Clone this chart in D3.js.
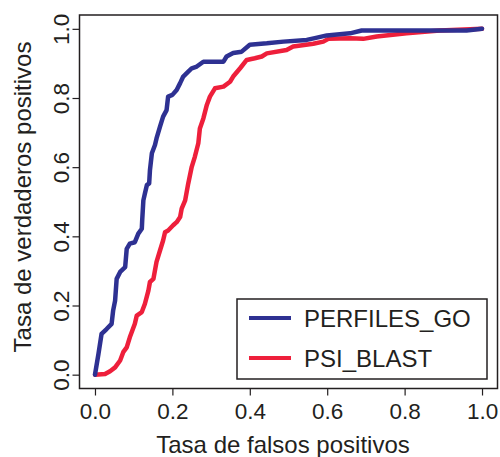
<!DOCTYPE html>
<html>
<head>
<meta charset="utf-8">
<script src="https://cdn.jsdelivr.net/npm/d3@7"></script>
<style>
  body { margin: 0; background: #fff; }
  svg { display: block; font-family: "Liberation Sans", Arial, sans-serif; }
</style>
</head>
<body>
<div id="chart"></div>
<script>
// ROC curves
var perfilesFpr = [0, 0.009, 0.017, 0.030, 0.043, 0.047, 0.052, 0.056, 0.065, 0.078, 0.082, 0.090, 0.103, 0.112, 0.121, 0.122, 0.125,
  0.129, 0.134, 0.140, 0.142, 0.147, 0.155, 0.159, 0.168, 0.176, 0.185, 0.189, 0.200, 0.211, 0.220, 0.228, 0.241, 0.250, 0.263, 0.280, 0.310,
  0.332, 0.340, 0.357, 0.379, 0.400, 0.444, 0.487, 0.547, 0.568, 0.599, 0.659, 0.689, 0.960, 1.0];
var perfilesTpr = [0, 0.060, 0.118, 0.132, 0.147, 0.186, 0.214, 0.277, 0.297, 0.311, 0.364, 0.379, 0.383, 0.408, 0.422, 0.446, 0.504,
  0.524, 0.548, 0.553, 0.591, 0.640, 0.664, 0.683, 0.717, 0.746, 0.765, 0.804, 0.809, 0.823, 0.843, 0.862, 0.876, 0.886, 0.891, 0.905, 0.905,
  0.905, 0.920, 0.930, 0.934, 0.954, 0.958, 0.963, 0.968, 0.973, 0.981, 0.987, 0.995, 0.995, 1.0];

var psiFpr = [0, 0.026, 0.039, 0.052, 0.065, 0.073, 0.082, 0.090, 0.103, 0.108, 0.121, 0.129, 0.138, 0.142, 0.151, 0.159, 0.168, 0.176,
  0.181, 0.189, 0.202, 0.211, 0.220, 0.224, 0.233, 0.241, 0.250, 0.258, 0.267, 0.271, 0.280, 0.289, 0.297, 0.310, 0.332, 0.349, 0.357,
  0.375, 0.392, 0.413, 0.431, 0.444, 0.495, 0.512, 0.564, 0.590, 0.603, 0.659, 0.693, 0.728, 0.805, 0.891, 1.0];
var psiTpr = [0, 0.002, 0.010, 0.021, 0.041, 0.065, 0.079, 0.108, 0.147, 0.171, 0.181, 0.205, 0.243, 0.268, 0.277, 0.326, 0.359, 0.388,
  0.412, 0.417, 0.432, 0.441, 0.456, 0.480, 0.504, 0.553, 0.601, 0.630, 0.669, 0.712, 0.741, 0.780, 0.804, 0.828, 0.833, 0.847, 0.862,
  0.886, 0.910, 0.915, 0.920, 0.929, 0.939, 0.949, 0.957, 0.963, 0.971, 0.973, 0.971, 0.978, 0.987, 0.995, 1.0];

var seriesNames = ["PERFILES_GO", "PSI_BLAST"];
var seriesColors = ["#2e3192", "#ee1f3b"];
var tickValues = [0, 0.2, 0.4, 0.6, 0.8, 1.0];

var W = 500, H = 457;
var box = {left: 79.5, right: 497.5, top: 15, bottom: 388.5};
var ink = "#231f20";

var svg = d3.select("#chart").append("svg")
    .attr("width", W)
    .attr("height", H);

// R style: 4% padding each side of the 0..1 range
var x = d3.scaleLinear().domain([-0.04, 1.04]).range([box.left, box.right]);
var y = d3.scaleLinear().domain([-0.04, 1.04]).range([box.bottom, box.top]);

var series = [
  {name: seriesNames[0], color: seriesColors[0], pts: d3.zip(perfilesFpr, perfilesTpr)},
  {name: seriesNames[1], color: seriesColors[1], pts: d3.zip(psiFpr, psiTpr)}
];

var line = d3.line()
  .x(function(d) { return x(d[0]); })
  .y(function(d) { return y(d[1]); });

// draw red under blue
svg.selectAll(".roc")
  .data(series.slice().reverse())
  .enter().append("path")
    .attr("class", "roc")
    .attr("d", function(d) { return line(d.pts); })
    .attr("fill", "none")
    .attr("stroke", function(d) { return d.color; })
    .attr("stroke-width", 4.5)
    .attr("stroke-linejoin", "round")
    .attr("stroke-linecap", "round");

// axes
var xAxis = svg.append("g")
    .attr("transform", "translate(0," + box.bottom + ")")
    .call(d3.axisBottom(x).tickValues(tickValues).tickSize(7).tickPadding(8).tickFormat(d3.format(".1f")));

var yAxis = svg.append("g")
    .attr("transform", "translate(" + box.left + ",0)")
    .call(d3.axisLeft(y).tickValues(tickValues).tickSize(7).tickFormat(d3.format(".1f")));

[xAxis, yAxis].forEach(function(a) {
  a.select(".domain").remove();
  a.selectAll("line").attr("stroke", ink).attr("stroke-width", 1.2);
  a.selectAll("text")
    .attr("fill", ink)
    .style("font-size", "22.5px")
    .style("font-family", "'Liberation Sans', Arial, sans-serif");
});

xAxis.selectAll("text").attr("dy", "0.71em");

yAxis.selectAll("text")
    .attr("transform", "rotate(-90)")
    .attr("x", 0)
    .attr("y", -11)
    .attr("dy", 0)
    .attr("text-anchor", "middle");

// plot frame
svg.append("rect")
    .attr("x", box.left)
    .attr("y", box.top)
    .attr("width", box.right - box.left)
    .attr("height", box.bottom - box.top)
    .attr("fill", "none")
    .attr("stroke", ink)
    .attr("stroke-width", 1.5);

// axis titles
svg.append("text")
    .attr("x", 283)
    .attr("y", 453)
    .attr("text-anchor", "middle")
    .attr("fill", ink)
    .style("font-size", "24px")
    .text("Tasa de falsos positivos");

svg.append("text")
    .attr("transform", "translate(31," + 197 + ") rotate(-90)")
    .attr("text-anchor", "middle")
    .attr("fill", ink)
    .style("font-size", "24px")
    .text("Tasa de verdaderos positivos");

// legend
var legend = svg.append("g").attr("transform", "translate(237,299)");

legend.append("rect")
    .attr("width", 250)
    .attr("height", 80)
    .attr("fill", "#fff")
    .attr("stroke", ink)
    .attr("stroke-width", 1.5);

var item = legend.selectAll(".item")
  .data(series)
  .enter().append("g")
    .attr("class", "item")
    .attr("transform", function(d, i) { return "translate(0," + (19 + i * 40) + ")"; });

item.append("line")
    .attr("x1", 12)
    .attr("x2", 54)
    .attr("stroke", function(d) { return d.color; })
    .attr("stroke-width", 4);

item.append("text")
    .attr("x", 67)
    .attr("y", 8.5)
    .attr("fill", ink)
    .style("font-size", "24px")
    .text(function(d) { return d.name; });
</script>
</body>
</html>
